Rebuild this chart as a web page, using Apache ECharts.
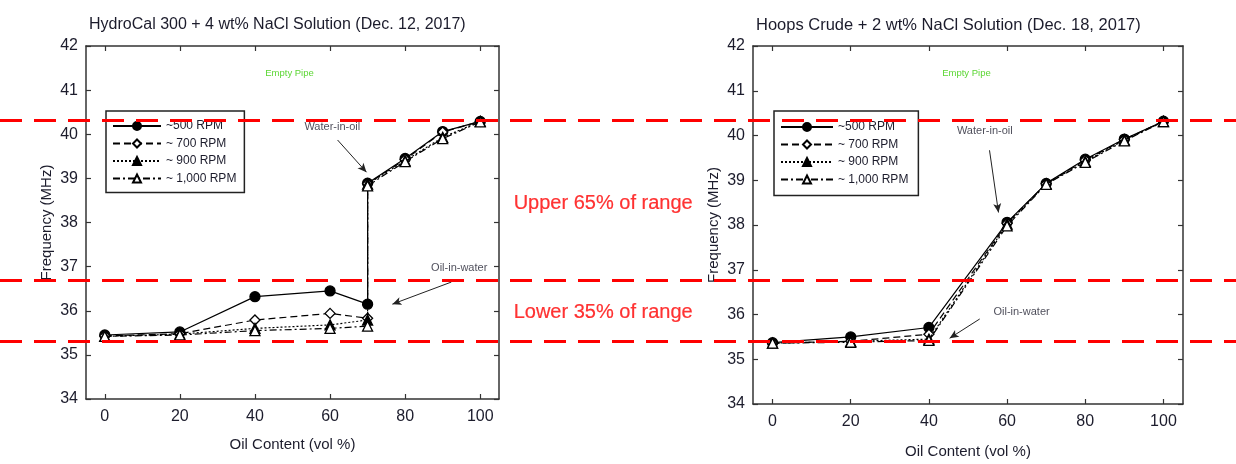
<!DOCTYPE html>
<html>
<head>
<meta charset="utf-8">
<script src="https://cdn.jsdelivr.net/npm/echarts@6/dist/echarts.min.js"></script>
<style>html,body{margin:0;padding:0;background:#fff}#c{width:1236px;height:464px}</style>
</head>
<body>
<div id="c"></div>
<script>
// ---- data ----
const xTicks = [0, 20, 40, 60, 80, 100];
const yTicks = [34, 35, 36, 37, 38, 39, 40, 41, 42];
const seriesNames = ['~500 RPM', '~ 700 RPM', '~ 900 RPM', '~ 1,000 RPM'];

// Left: HydroCal 300 + 4 wt% NaCl (x = 70 appears twice: the jump)
const leftX = [0, 20, 40, 60, 70, 70, 80, 90, 100];
const left500 = [35.45, 35.52, 36.32, 36.45, 36.15, 38.89, 39.45, 40.06, 40.29];
const left700 = [35.43, 35.48, 35.79, 35.94, 35.83, 38.88, 39.43, 40.05, 40.29];
const left900 = [35.42, 35.47, 35.60, 35.68, 35.79, 38.87, 39.40, 39.93, 40.29];
const left1000 = [35.42, 35.45, 35.55, 35.60, 35.65, 38.83, 39.38, 39.90, 40.28];

// Right: Hoops Crude + 2 wt% NaCl
const rightX = [0, 20, 40, 60, 70, 80, 90, 100];
const right500 = [35.37, 35.50, 35.71, 38.06, 38.93, 39.47, 39.92, 40.32];
const right700 = [35.36, 35.40, 35.56, 38.04, 38.92, 39.45, 39.91, 40.32];
const right900 = [35.36, 35.40, 35.45, 38.02, 38.92, 39.42, 39.90, 40.31];
const right1000 = [35.36, 35.38, 35.42, 37.98, 38.91, 39.40, 39.88, 40.31];

const emptyPipe = 41;
const rangeLines = [40.31, 36.69, 35.32];
const titles = ['HydroCal 300 + 4 wt% NaCl Solution (Dec. 12, 2017)', 'Hoops Crude + 2 wt% NaCl Solution (Dec. 18, 2017)'];

// annotations in data coordinates
const leftNotes = [{ name: 'Water-in-oil', value: [60.6, 40.16] }, { name: 'Oil-in-water', value: [94.4, 36.97] }];
const leftArrows = [[[62.0, 39.87], [69.7, 39.14]], [[92.3, 36.65], [76.6, 36.15]]];
const rightNotes = [{ name: 'Water-in-oil', value: [54.3, 40.1] }, { name: 'Oil-in-water', value: [63.7, 36.06] }];
const rightArrows = [[[55.5, 39.67], [57.8, 38.28]], [[53.0, 35.9], [45.3, 35.47]]];
const emptyPipeLabelX = [49.2, 49.6];
const rangeText = [{ name: 'Upper 65% of range', value: [48.8, 38.44] }, { name: 'Lower 35% of range', value: [48.8, 35.95] }];

// ---- chart ----
const FONT = "'Liberation Sans', Arial, sans-serif";
const INK = '#1c1c2c';
const GREEN = '#33cc00';
const chart = echarts.init(document.getElementById('c'), null, { renderer: 'canvas' });

const styles = [
  { symbol: 'circle', fill: '#000', type: 'solid' },
  { symbol: 'diamond', fill: '#fff', type: [7, 4] },
  { symbol: 'triangle', fill: '#000', type: [2, 2] },
  { symbol: 'triangle', fill: '#fff', type: [7, 3, 2, 3] }
];

function mkSeries(xs, vals, i, gi) {
  const s = styles[i];
  return {
    type: 'line', name: seriesNames[i], xAxisIndex: gi * 2, yAxisIndex: gi * 2,
    data: xs.map((x, k) => [x, vals[k]]),
    symbol: s.symbol, symbolSize: 10, showAllSymbol: true,
    lineStyle: { color: '#000', width: 1.2, type: s.type },
    itemStyle: { color: s.fill, borderColor: '#000', borderWidth: 1.3 },
    z: 3 + i, animation: false
  };
}

function xAxes(gi) {
  const base = {
    type: 'value', gridIndex: gi, min: -5, max: 105,
    axisLine: { show: true, onZero: false, lineStyle: { color: '#333', width: 1.5 } },
    axisTick: { show: true, inside: true, length: 5, customValues: xTicks, lineStyle: { color: '#333', width: 1.2 } },
    splitLine: { show: false }
  };
  return [
    Object.assign({}, base, {
      position: 'bottom',
      axisLabel: { customValues: xTicks, color: INK, fontSize: 16, fontFamily: FONT, margin: 10 },
      name: 'Oil Content (vol %)', nameLocation: 'middle', nameGap: gi === 0 ? 38 : 40,
      nameTextStyle: { color: INK, fontSize: 15, fontFamily: FONT }
    }),
    Object.assign({}, base, { position: 'top', axisLabel: { show: false } })
  ];
}
function yAxes(gi) {
  const base = {
    type: 'value', gridIndex: gi, min: 34, max: 42, interval: 1,
    axisLine: { show: true, onZero: false, lineStyle: { color: '#333', width: 1.5 } },
    axisTick: { show: true, inside: true, length: 5, lineStyle: { color: '#333', width: 1.2 } },
    splitLine: { show: false }
  };
  return [
    Object.assign({}, base, {
      position: 'left',
      axisLabel: { customValues: yTicks, color: INK, fontSize: 16, fontFamily: FONT, margin: 8 },
      name: 'Frequency (MHz)', nameLocation: 'middle', nameGap: 32,
      nameTextStyle: { color: INK, fontSize: 15, fontFamily: FONT }
    }),
    Object.assign({}, base, { position: 'right', axisLabel: { show: false } })
  ];
}

function helper(gi, notes, arrows, pipeX) {
  return {
    type: 'scatter', xAxisIndex: gi * 2, yAxisIndex: gi * 2, symbolSize: 0,
    data: notes.concat([{ name: 'Empty Pipe', value: [pipeX, 41.39], label: { color: GREEN, fontSize: 9.5 } }]),
    label: {
      show: true, position: 'inside', formatter: p => p.name,
      color: INK, fontSize: 11, fontFamily: FONT
    },
    emphasis: { disabled: true }, silent: true, animation: false, z: 6,
    markLine: {
      silent: true, animation: false,
      data: arrows.map(a => [
        { coord: a[0], symbol: 'none', lineStyle: { color: '#222', width: 1, type: 'solid' } },
        { coord: a[1], symbol: 'arrow', symbolSize: [6, 9] }
      ]).concat([[
        { yAxis: emptyPipe, symbol: 'none', lineStyle: { color: GREEN, width: 1.3, type: [8, 5] } },
        { yAxis: emptyPipe, symbol: 'none' }
      ]]),
      label: { show: false }
    }
  };
}

const leftData = [left500, left700, left900, left1000];
const rightData = [right500, right700, right900, right1000];

const series = [];
leftData.forEach((v, i) => series.push(mkSeries(leftX, v, i, 0)));
rightData.forEach((v, i) => series.push(mkSeries(rightX, v, i, 1)));
series.push(helper(0, leftNotes, leftArrows, emptyPipeLabelX[0]));
series.push(helper(1, rightNotes, rightArrows, emptyPipeLabelX[1]));
// overlay: red range lines across the whole figure
series.push({
  type: 'scatter', xAxisIndex: 4, yAxisIndex: 4, symbolSize: 0, z: 30, silent: true, animation: false,
  data: rangeText,
  label: {
    show: true, position: 'inside', formatter: p => p.name, color: '#ff0000', fontSize: 20, fontFamily: FONT,
    textBorderColor: '#ff0000', textBorderWidth: 0.2
  },
  markLine: {
    silent: true, animation: false, z: 30, symbol: 'none',
    label: { show: false },
    lineStyle: { color: '#ff0000', width: 3, type: [22, 12] },
    data: rangeLines.map(v => ({ yAxis: v }))
  }
});

const legendBase = {
  orient: 'vertical', data: seriesNames, itemHeight: 10, itemGap: 5.5,
  borderColor: '#222', borderWidth: 1.5, backgroundColor: '#fff',
  textStyle: { fontSize: 12, color: INK, fontFamily: FONT }, selectedMode: false
};

const option = {
  animation: false,
  backgroundColor: '#fff',
  title: [
    { text: titles[0], left: 84, top: 12, textStyle: { fontSize: 16, fontWeight: 'normal', color: INK, fontFamily: FONT } },
    { text: titles[1], left: 751, top: 12, textStyle: { fontSize: 16.5, fontWeight: 'normal', color: INK, fontFamily: FONT } }
  ],
  grid: [
    { left: 86, top: 46, width: 413, height: 353 },
    { left: 753, top: 46, width: 430, height: 362 },
    { left: 0, right: 0, top: 46, height: 353 }
  ],
  xAxis: xAxes(0).concat(xAxes(1)).concat([{ type: 'value', gridIndex: 2, min: 0, max: 100, show: false }]),
  yAxis: yAxes(0).concat(yAxes(1)).concat([{ type: 'value', gridIndex: 2, min: 34, max: 42, show: false }]),
  legend: [
    Object.assign({}, legendBase, { left: 106, top: 111, itemWidth: 48, padding: [9, 8, 8, 6] }),
    Object.assign({}, legendBase, { left: 774, top: 111, itemWidth: 52, padding: [10, 10, 10, 6] })
  ],
  series: series
};
chart.setOption(option);
</script>
</body>
</html>
